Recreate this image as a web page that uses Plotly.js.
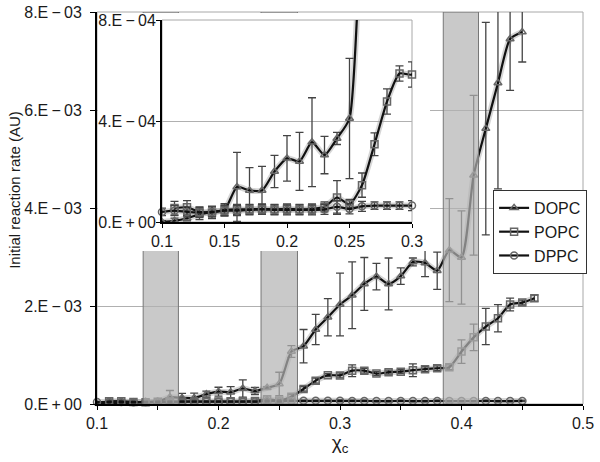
<!DOCTYPE html>
<html><head><meta charset="utf-8">
<script src="https://cdn.plot.ly/plotly-3.0.1.min.js"></script>
<style>
html,body{margin:0;padding:0;background:#fff;}
#wrap{position:relative;width:600px;height:462px;}
#main{position:absolute;left:0;top:0;width:600px;height:462px;}
#inset{position:absolute;left:98px;top:13px;width:332px;height:238px;}
#inset svg{overflow:visible;}
</style></head><body>
<div id="wrap"><div id="main"></div><div id="inset"></div></div>
<script>
// ---- data ----
const dopcX = [0.10,0.11,0.12,0.13,0.14,0.15,0.16,0.17,0.18,0.19,0.20,0.21,0.22,0.23,0.24,0.25,0.26,0.27,0.28,0.29,0.30,0.31,0.32,0.33,0.34,0.35,0.36,0.37,0.38,0.39,0.40,0.41,0.42,0.43,0.44,0.45];
const dopcY = [0.000e-3,0.005e-3,0.015e-3,0.030e-3,0.040e-3,0.048e-3,0.139e-3,0.125e-3,0.125e-3,0.200e-3,0.252e-3,0.240e-3,0.316e-3,0.265e-3,0.331e-3,0.410e-3,1.07e-3,1.18e-3,1.52e-3,1.77e-3,2.03e-3,2.22e-3,2.45e-3,2.60e-3,2.45e-3,2.61e-3,2.90e-3,2.88e-3,2.72e-3,3.14e-3,2.99e-3,4.67e-3,5.62e-3,6.55e-3,7.45e-3,7.59e-3];
const dopcErr = [0.005e-3,0.010e-3,0.010e-3,0.020e-3,0.020e-3,0.020e-3,0.137e-3,0.090e-3,0.095e-3,0.064e-3,0.090e-3,0.115e-3,0.176e-3,0.074e-3,0.024e-3,0.238e-3,0.12e-3,0.34e-3,0.31e-3,0.38e-3,0.64e-3,0.68e-3,0.54e-3,0.27e-3,0.53e-3,0.17e-3,0.08e-3,0.28e-3,0.38e-3,1.05e-3,0.95e-3,1.63e-3,2.17e-3,2.16e-3,1.05e-3,0.61e-3];

const popcX = [0.11,0.12,0.13,0.14,0.15,0.16,0.17,0.18,0.19,0.20,0.21,0.22,0.23,0.24,0.25,0.26,0.27,0.28,0.29,0.30,0.31,0.32,0.33,0.34,0.35,0.36,0.37,0.38,0.39,0.40,0.41,0.42,0.43,0.44,0.45,0.46];
const popcY = [0.055e-3,0.058e-3,0.040e-3,0.038e-3,0.048e-3,0.050e-3,0.050e-3,0.052e-3,0.050e-3,0.052e-3,0.050e-3,0.052e-3,0.060e-3,0.097e-3,0.070e-3,0.146e-3,0.308e-3,0.477e-3,0.588e-3,0.584e-3,0.68e-3,0.68e-3,0.62e-3,0.65e-3,0.66e-3,0.69e-3,0.71e-3,0.73e-3,0.75e-3,1.07e-3,1.36e-3,1.58e-3,1.75e-3,2.03e-3,2.07e-3,2.16e-3];
const popcErr = [0.027e-3,0.027e-3,0.020e-3,0.025e-3,0.025e-3,0.020e-3,0.020e-3,0.020e-3,0.020e-3,0.020e-3,0.020e-3,0.020e-3,0.020e-3,0.067e-3,0.020e-3,0.048e-3,0.045e-3,0.050e-3,0.030e-3,0.050e-3,0.12e-3,0.05e-3,0.04e-3,0.04e-3,0.04e-3,0.13e-3,0.05e-3,0.05e-3,0.05e-3,0.24e-3,0.27e-3,0.37e-3,0.28e-3,0.13e-3,0.05e-3,0.06e-3];

const dppcX = [0.10,0.11,0.12,0.13,0.14,0.15,0.16,0.17,0.18,0.19,0.20,0.21,0.22,0.23,0.24,0.25,0.26,0.27,0.28,0.29,0.30,0.31,0.32,0.33,0.34,0.35,0.36,0.37,0.38,0.39,0.40,0.41,0.42,0.43,0.44,0.45];
const dppcY = [0.040e-3,0.045e-3,0.040e-3,0.038e-3,0.040e-3,0.045e-3,0.045e-3,0.048e-3,0.050e-3,0.048e-3,0.048e-3,0.048e-3,0.048e-3,0.050e-3,0.060e-3,0.052e-3,0.062e-3,0.065e-3,0.065e-3,0.065e-3,0.065e-3,0.062e-3,0.062e-3,0.060e-3,0.060e-3,0.062e-3,0.060e-3,0.060e-3,0.062e-3,0.060e-3,0.060e-3,0.060e-3,0.062e-3,0.060e-3,0.060e-3,0.062e-3];
const dppcErr = [0.015e-3,0.020e-3,0.020e-3,0.020e-3,0.020e-3,0.020e-3,0.020e-3,0.020e-3,0.020e-3,0.020e-3,0.020e-3,0.020e-3,0.020e-3,0.020e-3,0.025e-3,0.020e-3,0.020e-3,0.015e-3,0.015e-3,0.015e-3,0.020e-3,0.015e-3,0.015e-3,0.015e-3,0.015e-3,0.015e-3,0.015e-3,0.015e-3,0.015e-3,0.015e-3,0.015e-3,0.015e-3,0.015e-3,0.015e-3,0.015e-3,0.015e-3];

const seriesNames = ['DOPC','POPC','DPPC'];
const shadeStart = [0.138, 0.235, 0.385];
const shadeEnd   = [0.167, 0.265, 0.414];

const mainXTickVals = [0.1,0.2,0.3,0.4,0.5];
const mainXTickText = ['0.1','0.2','0.3','0.4','0.5'];
const mainXMinorVals = [0.15,0.25,0.35,0.45];
const mainYTickVals = [0,0.002,0.004,0.006,0.008];
const mainYTickText = ['0.E\u2009+\u200900','2.E\u2009\u2212\u200903','4.E\u2009\u2212\u200903','6.E\u2009\u2212\u200903','8.E\u2009\u2212\u200903'];
const insetXTickVals = [0.1,0.15,0.2,0.25,0.3];
const insetXTickText = ['0.1','0.15','0.2','0.25','0.3'];
const insetYTickVals = [0,0.0004,0.0008];
const insetYTickText = ['0.E\u2009+\u200900','4.E\u2009\u2212\u200904','8.E\u2009\u2212\u200904'];

// ---- styles ----
const FONT = 'Liberation Sans, Arial, Helvetica, sans-serif';
const TXT = '#1a1a1a';
const symbols = ['triangle-up-open','square-open','circle-open'];

function traces(showLegend){
  const xs=[dopcX,popcX,dppcX], ys=[dopcY,popcY,dppcY], es=[dopcErr,popcErr,dppcErr];
  const halos = seriesNames.map((n,i)=>({
    type:'scatter', mode:'lines', name:n+' shadow', x:xs[i], y:ys[i], showlegend:false, hoverinfo:'skip',
    line:{color:'rgba(165,165,165,0.45)', width:6, shape:'spline', smoothing:0.6}
  }));
  const main = seriesNames.map((n,i)=>({
    type:'scatter', mode:'lines+markers', name:n,
    x:xs[i], y:ys[i], showlegend:showLegend,
    cliponaxis: i!==0 ? false : true,
    line:{color:'#111', width:2.2, shape:'spline', smoothing:0.6},
    marker:{symbol:symbols[i], size:7, color:'#666', line:{width:1.5, color:'#666'}},
    error_y:{type:'data', array:es[i], visible:true, color:'#444', thickness:1.3, width:4}
  }));
  return halos.concat(main);
}

const mainShapes = [
  {type:'rect', xref:'paper', yref:'paper', x0:0, x1:1, y0:0, y1:1, line:{color:'#a8a8a8', width:1}, fillcolor:'rgba(0,0,0,0)', layer:'below'}
].concat(shadeStart.map((s,i)=>({
  type:'rect', xref:'x', yref:'y', x0:s, x1:shadeEnd[i], y0:0, y1:0.008,
  fillcolor:'rgba(178,178,178,0.7)', line:{color:'#777', width:1}, layer:'above'
})));

const mainLayout = {
  width:600, height:462,
  margin:{l:97, r:17, t:12, b:58},
  paper_bgcolor:'#fff', plot_bgcolor:'#fff',
  font:{family:FONT, color:TXT, size:16},
  showlegend:true,
  legend:{x:0.815, xanchor:'left', y:0.546, yanchor:'top', bgcolor:'#fff', bordercolor:'#333', borderwidth:1,
          font:{size:16, family:FONT, color:TXT}, tracegroupgap:0, itemwidth:30},
  xaxis:{range:[0.1,0.5], tickvals:mainXTickVals, ticktext:mainXTickText, ticks:'outside', ticklen:4, tickcolor:'#000',
         minor:{tickvals:mainXMinorVals, ticks:'outside', ticklen:4, tickcolor:'#000', showgrid:false},
         showline:true, linecolor:'#000', linewidth:2, showgrid:false, zeroline:false,
         tickfont:{size:16, family:FONT, color:TXT}, ticklabelstandoff:0,
         title:{text:'\u03c7<sub>c</sub>', font:{size:19, family:FONT, color:TXT}, standoff:4}},
  yaxis:{range:[0,0.008], tickvals:mainYTickVals, ticktext:mainYTickText, ticks:'outside', ticklen:5, tickcolor:'#000',
         showline:true, linecolor:'#000', linewidth:2, showgrid:true, gridcolor:'#b0b0b0', gridwidth:1, zeroline:false,
         tickfont:{size:16, family:FONT, color:TXT}, ticklabelstandoff:5},
  shapes: mainShapes,
  annotations:[{text:'Initial reaction rate (AU)', xref:'paper', yref:'paper', x:-0.169, y:0.546,
    xanchor:'center', yanchor:'middle', textangle:-90, showarrow:false, font:{size:15, family:FONT, color:TXT}}]
};

const insetLayout = {
  width:332, height:238,
  margin:{l:64, r:18, t:7, b:29},
  paper_bgcolor:'#fff', plot_bgcolor:'#fff',
  font:{family:FONT, color:TXT, size:16},
  showlegend:false,
  xaxis:{range:[0.1,0.3], tickvals:insetXTickVals, ticktext:insetXTickText, ticks:'outside', ticklen:4, tickcolor:'#000',
         showline:true, linecolor:'#000', linewidth:2, showgrid:false, zeroline:false,
         tickfont:{size:16, family:FONT, color:TXT}, ticklabelstandoff:0, ticklabeloverflow:'allow'},
  yaxis:{range:[0,0.0008], tickvals:insetYTickVals, ticktext:insetYTickText, ticks:'outside', ticklen:4, tickcolor:'#000',
         showline:true, linecolor:'#000', linewidth:2, showgrid:true, gridcolor:'#b0b0b0', gridwidth:1, zeroline:false,
         tickfont:{size:16, family:FONT, color:TXT}, ticklabelstandoff:-3, ticklabeloverflow:'allow'},
  shapes:[{type:'rect', xref:'paper', yref:'paper', x0:0, x1:1, y0:0, y1:1, line:{color:'#a8a8a8', width:1}, fillcolor:'rgba(0,0,0,0)', layer:'below'}]
};

Plotly.newPlot('main', traces(true), mainLayout, {staticPlot:true, displayModeBar:false});
Plotly.newPlot('inset', traces(false), insetLayout, {staticPlot:true, displayModeBar:false});
</script>
</body></html>
